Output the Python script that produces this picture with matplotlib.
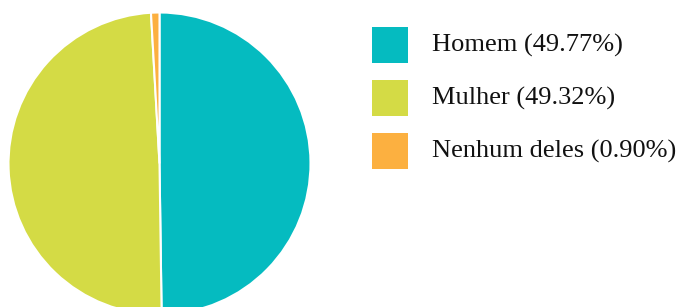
import matplotlib
matplotlib.use("Agg")
import matplotlib.pyplot as plt
from matplotlib.patches import Rectangle

labels = ["Homem", "Mulher", "Nenhum deles"]
values = [49.77, 49.32, 0.90]
colors = ["#05BBC0", "#D4DB45", "#FCB040"]

W, H = 681, 307
fig = plt.figure(figsize=(W / 100, H / 100), dpi=100)
plt.rcParams['font.family'] = ['Liberation Serif', 'DejaVu Serif']

cx, cy, r = 159.5, 163.5, 151
ax = fig.add_axes([(cx - r) / W, (H - cy - r) / H, 2 * r / W, 2 * r / H])
ax.pie(values, colors=colors, startangle=90, counterclock=False, radius=1,
       wedgeprops=dict(edgecolor="white", linewidth=1.5))
ax.set_xlim(-1, 1)
ax.set_ylim(-1, 1)
ax.set_aspect("equal")
ax.axis("off")

box_x, box_w = 372, 36
y0, step = 27, 53
for i, (lab, val, col) in enumerate(zip(labels, values, colors)):
    top = y0 + i * step
    fig.patches.append(Rectangle((box_x / W, (H - top - box_w) / H), box_w / W, box_w / H,
                                 transform=fig.transFigure, facecolor=col, edgecolor="none"))
    fig.text(432 / W, (H - top - box_w / 2) / H, f"{lab} ({val:.2f}%)", fontsize=19,
             va="center", ha="left", color="#111111")

fig.savefig("out.png", dpi=100)
